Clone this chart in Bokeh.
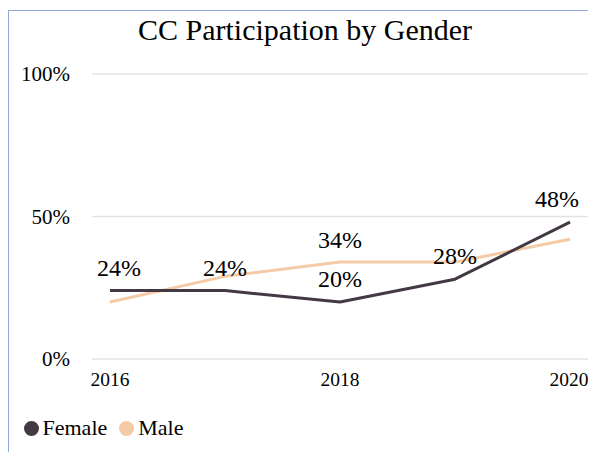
from bokeh.plotting import figure
from bokeh.models import (ColumnDataSource, Range1d, Legend, LegendItem,
                          FixedTicker, Label)
from bokeh.embed import file_html
from bokeh.resources import INLINE
from bokeh.core.properties import value

# ---- data ----
years = [2016, 2017, 2018, 2019, 2020]
female = [24, 24, 20, 28, 48]
male = [20, 29, 34, 34, 42]
female_labels = ["24%", "24%", "20%", "28%", "48%"]
male_label_years = [2018]
y_ticks = [0, 50, 100]
y_tick_labels = ["0%", "50%", "100%"]
x_ticks = [2016, 2018, 2020]
title_text = "CC Participation by Gender"
series_names = ["Female", "Male"]

# ---- style / geometry (pixels) ----
FONT = "Liberation Serif"
FEMALE_C = "#433843"
MALE_C = "#f5cba7"
GRID_C = "#e3e3e3"
BORDER_C = "#8eaadb"
W, H = 580, 442
PX_PER_YEAR = 115
FIRST_YEAR_PX = 100.5       # where the first year sits from the left
PLOT_PAD_PX = 18            # gridline overhang beyond first/last year
PX_PER_UNIT = 2.85          # vertical pixels per percentage point
ZERO_PX = 347.5             # where 0% sits from the top
TITLE_GAP_PX = 45           # title anchor above the 100% line
XAXIS_GAP_PX = 1.5

x0 = years[0] - FIRST_YEAR_PX / PX_PER_YEAR
x1 = x0 + W / PX_PER_YEAR
y1 = 100 + (ZERO_PX - 100 * PX_PER_UNIT) / PX_PER_UNIT
y0 = -(H - ZERO_PX) / PX_PER_UNIT
grid_left = years[0] - PLOT_PAD_PX / PX_PER_YEAR
grid_right = years[-1] + PLOT_PAD_PX / PX_PER_YEAR

p = figure(width=W, height=H, output_backend="svg", toolbar_location=None,
           x_range=Range1d(x0, x1), y_range=Range1d(y0, y1),
           min_border=0, min_border_left=0, min_border_right=0,
           min_border_top=0, min_border_bottom=0)
p.margin = (10, 0, 0, 8)
p.styles = {"border-top": f"1.5px solid {BORDER_C}",
            "border-left": f"1.5px solid {BORDER_C}"}
p.outline_line_color = None
p.background_fill_color = "white"
p.border_fill_color = "white"
p.grid.visible = False

# title
p.add_layout(Label(x=grid_left, y=100 + TITLE_GAP_PX / PX_PER_UNIT,
                   x_offset=46, text=title_text, text_font=FONT,
                   text_font_size="30px", text_color="black",
                   text_align="left", text_baseline="alphabetic"))

# gridlines at the y ticks, spanning the plot area only
p.segment(x0=[grid_left] * len(y_ticks), x1=[grid_right] * len(y_ticks),
          y0=y_ticks, y1=y_ticks, line_color=GRID_C, line_width=1.5)

# axes drawn at fixed places inside the canvas
p.yaxis.fixed_location = grid_left
p.xaxis.fixed_location = -XAXIS_GAP_PX / PX_PER_UNIT
p.yaxis.ticker = FixedTicker(ticks=y_ticks)
p.yaxis.major_label_overrides = {t: l for t, l in zip(y_ticks, y_tick_labels)}
p.xaxis.ticker = FixedTicker(ticks=x_ticks)
p.xaxis.major_label_overrides = {t: str(t) for t in x_ticks}
for ax in (p.xaxis, p.yaxis):
    ax.axis_line_color = None
    ax.major_tick_line_color = None
    ax.minor_tick_line_color = None
    ax.major_tick_out = 0
    ax.major_tick_in = 0
    ax.major_label_text_font = FONT
    ax.major_label_text_color = "black"
p.yaxis.major_label_text_font_size = "21px"
p.yaxis.major_label_standoff = 22
p.xaxis.major_label_text_font_size = "19.5px"
p.xaxis.major_label_standoff = 12

# lines
src = ColumnDataSource(dict(year=years, female=female, male=male))
p.line(x="year", y="male", source=src, line_color=MALE_C, line_width=3)
p.line(x="year", y="female", source=src, line_color=FEMALE_C, line_width=3,
       line_join="round")

# data labels (nudged inward at the ends like the original)
n = len(years)
f_off = [9 if i == 0 else (-13 if i == n - 1 else 0) for i in range(n)]
fsrc = ColumnDataSource(dict(x=years, y=female, text=female_labels, xo=f_off))
p.text(x="x", y="y", text="text", source=fsrc, x_offset="xo", y_offset=-23,
       text_align="center", text_baseline="alphabetic",
       text_font=value(FONT), text_font_size="24px", text_color="black")
m_idx = [years.index(yv) for yv in male_label_years]
msrc = ColumnDataSource(dict(x=[years[i] for i in m_idx],
                             y=[male[i] for i in m_idx],
                             text=[f"{male[i]}%" for i in m_idx]))
p.text(x="x", y="y", text="text", source=msrc, y_offset=-22,
       text_align="center", text_baseline="alphabetic",
       text_font=value(FONT), text_font_size="24px", text_color="black")

# legend (bottom-left, horizontal)
nan = float("nan")
rf = p.scatter(x=[nan], y=[nan], marker="circle", color=FEMALE_C, line_width=7)
rm = p.scatter(x=[nan], y=[nan], marker="circle", color=MALE_C, line_width=7)
legend = Legend(items=[LegendItem(label=series_names[0], renderers=[rf]),
                       LegendItem(label=series_names[1], renderers=[rm])],
                orientation="horizontal", location=(11.5, 10.5),
                glyph_width=20, glyph_height=30, label_standoff=2,
                spacing=9, padding=0, margin=0,
                border_line_color=None, background_fill_alpha=0,
                label_text_font=FONT, label_text_font_size="22px",
                label_text_color="black")
p.add_layout(legend, "center")

open("out.html", "w").write(file_html(p, INLINE))
